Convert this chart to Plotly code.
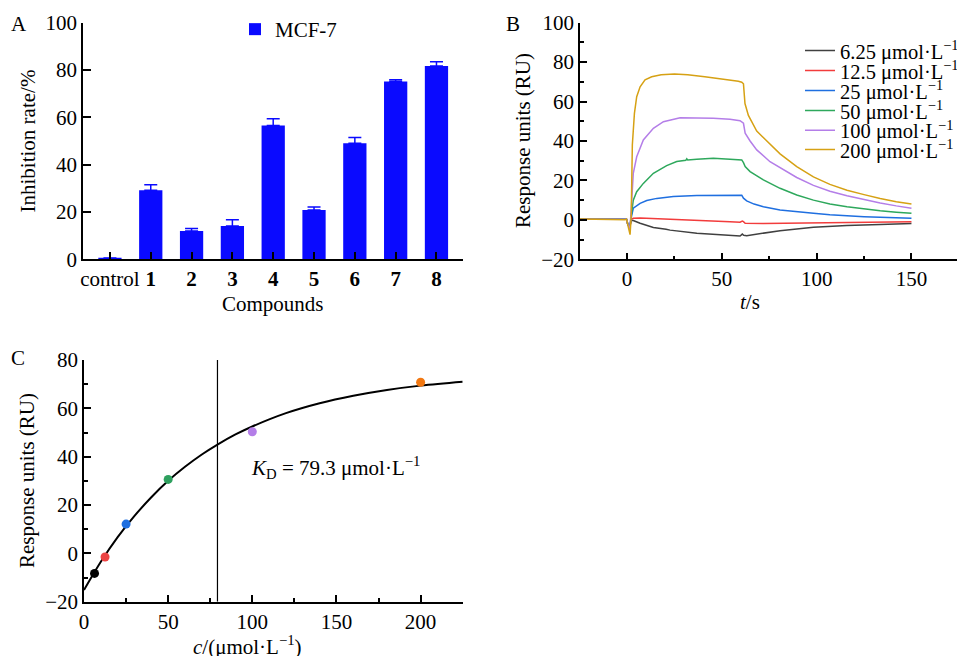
import plotly.graph_objects as go

# The page body adds an 8 px margin; the figure is positioned to compensate.
PAGE_W, PAGE_H = 965, 656
OFF = 8
W, H = PAGE_W - OFF, PAGE_H - OFF
FONT = "Liberation Serif, Times New Roman, serif"
FS = 21

# ---------------- Panel A data ----------------
compounds = ["control", "1", "2", "3", "4", "5", "6", "7", "8"]
compound_labels = ["control", "<b>1</b>", "<b>2</b>", "<b>3</b>", "<b>4</b>",
                   "<b>5</b>", "<b>6</b>", "<b>7</b>", "<b>8</b>"]
inhibition = [0.5, 29.2, 12.0, 14.1, 56.5, 20.8, 49.0, 75.1, 81.7]
inhibition_err = [0.0, 2.3, 1.0, 2.6, 2.9, 1.3, 2.5, 0.8, 1.8]

# ---------------- Panel B data (sensorgrams) ----------------
conc_labels = ["6.25 μmol·L<sup>−1</sup>", "12.5 μmol·L<sup>−1</sup>", "25 μmol·L<sup>−1</sup>",
               "50 μmol·L<sup>−1</sup>", "100 μmol·L<sup>−1</sup>", "200 μmol·L<sup>−1</sup>"]
conc_colors = ["#404040", "#f23c3c", "#1f6fe0", "#2ea85c", "#b47ee8", "#d6a114"]

t_625 = [-25, -1, -0.3, 0.5, 1.5, 2.2, 3.3, 6.9, 13.9, 20.6, 22.7, 36.8, 49, 59.6, 60.8, 61.5, 63.1,
         71.9, 80.7, 98.3, 115.9, 133.5, 150]
r_625 = [0.3, 0, 0.3, -2.5, -3.5, -0.2, -0.3, -1.7, -3.9, -4.8, -5.2, -6.8, -7.7, -8.2, -7.2, -7.8, -8.0,
         -6.8, -5.5, -3.8, -2.8, -2.3, -1.9]

t_125 = [-25, -1, -0.3, 0.5, 1.5, 2.2, 3.3, 6.9, 19.2, 36.8, 54.3, 59.6, 60.8, 61.4, 62.3, 71.9, 85,
         100, 120, 150]
r_125 = [0.3, 0, 0.3, -2.5, -3.5, 0.3, 0.8, 0.9, 0.5, -0.3, -0.9, -1.2, -0.6, -0.9, -1.7, -1.8, -1.6,
         -1.4, -1.1, -0.9]

t_25 = [-25, -1, -0.3, 0.5, 1.5, 2.2, 3.3, 6.9, 10.4, 15.7, 24.4, 36.8, 45.5, 55, 60.5, 61.4, 63.1, 67,
        71.9, 80.7, 89.5, 98.3, 107, 116, 125, 133.5, 142, 150]
r_25 = [0.3, 0, 0.3, -2.5, -3.5, 1, 5.9, 8.4, 9.8, 10.9, 11.8, 12.3, 12.5, 12.5, 12.5, 11, 9.6, 8,
        6.7, 5, 4, 3.3, 2.6, 2.0, 1.6, 1.3, 1.0, 0.8]

t_50 = [-25, -1, -0.3, 0.5, 1.5, 2.2, 3.3, 5.1, 8.6, 13.9, 20.9, 26.2, 31.0, 31.5, 32.0, 36.8, 45.5,
        54.3, 60.5, 61.4, 62.3, 64.9, 71.9, 80.7, 89.5, 98.3, 107, 116, 125, 133.5, 142, 150]
r_50 = [0.3, 0, 0.3, -2.5, -3.5, 2, 10, 14.3, 18.5, 23.6, 27.5, 29.6, 30.2, 31.0, 30.4, 30.8, 31.2,
        30.8, 30.4, 29, 27, 24.5, 20.3, 16, 12.6, 10, 8, 6.6, 5.5, 4.6, 3.9, 3.3]

t_100 = [-25, -1, -0.3, 0.5, 1.5, 2.2, 2.8, 3.3, 5.1, 8.6, 13.9, 19.2, 28, 36.8, 45.5, 54.3, 59.6,
         61.4, 62.3, 64.9, 68.4, 75.4, 80.7, 89.5, 98.3, 107, 116, 125, 133.5, 142, 150]
r_100 = [0.3, 0, 0.3, -2.5, -4.5, 5, 16.8, 23.6, 32, 40.5, 46.4, 49.8, 51.8, 51.8, 51.5, 51, 50.3,
         49, 44, 40, 35.5, 29.5, 26.5, 21.5, 17.5, 14.5, 12.2, 10.2, 8.6, 7.1, 5.9]

t_200 = [-25, -1, -0.3, 0.5, 1.6, 2.2, 2.8, 3.9, 5.1, 6.9, 9.5, 13, 18, 25, 32, 41, 50, 58.7, 60.5,
         61.4, 62.2, 64, 68.4, 75.4, 80.7, 89.5, 98.3, 107, 116, 125, 133.5, 142, 150]
r_200 = [0.4, 0, 0.4, -3, -7.5, 2, 38, 54, 62.5, 67.5, 71, 72.6, 73.6, 74, 73.6, 72.6, 71.6, 70.3, 69.8,
         69, 59, 53, 45, 38.5, 33.5, 27, 21.8, 18, 15, 12.8, 10.8, 9.2, 8.0]

sensor_t = [t_625, t_125, t_25, t_50, t_100, t_200]
sensor_r = [r_625, r_125, r_25, r_50, r_100, r_200]

# ---------------- Panel C data ----------------
conc_values = [6.25, 12.5, 25, 50, 100, 200]
steady_resp = [-8.3, -1.5, 12.1, 30.6, 50.3, 70.8]
point_colors = ["#000000", "#ec4444", "#1e6fe0", "#2ea05e", "#b47ee8", "#f27812"]
fit_c = [0, 10, 20, 30, 40, 50, 60, 70, 79.3, 90, 100, 120, 140, 160, 180, 200, 225]
fit_r = [-15.2, -3.5, 6.7, 15.5, 23.2, 30.0, 35.8, 40.9, 45.0, 49.2, 52.5, 58.0, 62.1, 65.2, 67.6,
         69.4, 71.0]
KD = 79.3


def px_x(p):
    return (p - OFF) / W


def px_y(p):
    return 1 - (p - OFF) / H


fig = go.Figure()

# Panel A bars
fig.add_trace(go.Bar(
    x=compounds, y=inhibition, width=0.57,
    marker=dict(color="#0a0aff", line=dict(width=0)),
    error_y=dict(type="data", array=inhibition_err, arrayminus=[0] * len(inhibition_err),
                 symmetric=False, color="#0a0aff", thickness=1.5, width=6.5),
    name="MCF-7", xaxis="x", yaxis="y", legend="legend",
))

# Panel B sensorgrams, each in its own legend for exact row spacing
legend_rows = [50.7, 70.7, 90.7, 110.7, 130.3, 149.7]
for i in range(6):
    fig.add_trace(go.Scatter(
        x=sensor_t[i], y=sensor_r[i], mode="lines",
        line=dict(color=conc_colors[i], width=1.5),
        name=conc_labels[i], xaxis="x2", yaxis="y2", legend=f"legend{i + 2}",
    ))

# Panel C
fig.add_trace(go.Scatter(x=[KD, KD], y=[-20, 80], mode="lines", line=dict(color="black", width=1.2),
                         xaxis="x3", yaxis="y3", showlegend=False))
fig.add_trace(go.Scatter(x=fit_c, y=fit_r, mode="lines", line=dict(color="black", width=2, shape="spline"),
                         xaxis="x3", yaxis="y3", showlegend=False))
fig.add_trace(go.Scatter(x=conc_values, y=steady_resp, mode="markers",
                         marker=dict(color=point_colors, size=9),
                         xaxis="x3", yaxis="y3", showlegend=False))

axis_common = dict(showline=True, linecolor="black", linewidth=1.5, mirror=False, showgrid=False,
                   zeroline=False, ticks="inside", tickcolor="black", tickwidth=1.5, automargin=False,
                   tickfont=dict(family=FONT, size=FS, color="black"))

layout = dict(
    template="none",
    width=W, height=H, margin=dict(l=0, r=0, t=0, b=0, autoexpand=False), autosize=False,
    paper_bgcolor="white", plot_bgcolor="white",
    font=dict(family=FONT, size=FS, color="black"),
    xaxis=dict(domain=[px_x(83), px_x(463)], anchor="y", type="category",
               range=[-0.66, 8.65], tickmode="array", tickvals=compounds, ticktext=compound_labels,
               ticklen=8, **axis_common),
    yaxis=dict(domain=[px_y(259.3), px_y(22.7)], anchor="x", range=[0, 100], dtick=20,
               ticklen=8, **axis_common),
    xaxis2=dict(domain=[px_x(580), px_x(958.3)], anchor="y2", range=[-24.8, 174.7],
                tickvals=[0, 50, 100, 150], ticklen=7,
                minor=dict(ticks="inside", ticklen=4, tickvals=[25, 75, 125, 175], tickcolor="black", tickwidth=1.5),
                **axis_common),
    yaxis2=dict(domain=[px_y(259.3), px_y(22.7)], anchor="x2", range=[-20, 100], ticklen=7,
                tickvals=[-20, 0, 20, 40, 60, 80, 100], ticktext=["−20", "0", "20", "40", "60", "80", "100"],
                minor=dict(ticks="inside", ticklen=4, dtick=10, tickcolor="black", tickwidth=1.5),
                **axis_common),
    xaxis3=dict(domain=[px_x(84), px_x(462.7)], anchor="y3", range=[0, 225], tickvals=[0, 50, 100, 150, 200],
                ticklen=7,
                minor=dict(ticks="inside", ticklen=4, tickvals=[25, 75, 125, 175, 225], tickcolor="black", tickwidth=1.5),
                **axis_common),
    yaxis3=dict(domain=[px_y(601.7), px_y(360)], anchor="x3", range=[-20, 80], ticklen=7,
                tickvals=[-20, 0, 20, 40, 60, 80], ticktext=["−20", "0", "20", "40", "60", "80"],
                minor=dict(ticks="inside", ticklen=4, dtick=10, tickcolor="black", tickwidth=1.5),
                **axis_common),
    legend=dict(x=px_x(235), y=px_y(29.5), xanchor="left", yanchor="middle",
                bgcolor="rgba(0,0,0,0)", font=dict(family=FONT, size=FS, color="black"),
                borderwidth=0, tracegroupgap=0),
)
for i, yrow in enumerate(legend_rows):
    layout[f"legend{i + 2}"] = dict(x=px_x(800), y=px_y(yrow), xanchor="left", yanchor="middle",
                                    bgcolor="rgba(0,0,0,0)", borderwidth=0,
                                    font=dict(family=FONT, size=20.5, color="black"))

fig.update_layout(**layout)


def ann(text, x, y, angle=0, xanchor="center", size=FS):
    fig.add_annotation(text=text, x=px_x(x), y=px_y(y), xref="paper", yref="paper",
                       showarrow=False, textangle=angle, xanchor=xanchor, yanchor="middle",
                       font=dict(family=FONT, size=size, color="black"))


ann("A", 18.5, 24)
ann("B", 513, 24)
ann("C", 18, 358)
ann("Inhibition rate/%", 27.5, 141, angle=-90)
ann("Compounds", 272.5, 304)
ann("Response units (RU)", 523, 141, angle=-90)
ann("<i>t</i>/s", 750, 302)
ann("Response units (RU)", 27, 481, angle=-90)
ann("<i>c</i>/(μmol·L<sup>−1</sup>)", 248, 645)
ann("<i>K</i><sub>D</sub> = 79.3 μmol·L<sup>−1</sup>", 249, 467, xanchor="left")

fig.write_html("out.html")
